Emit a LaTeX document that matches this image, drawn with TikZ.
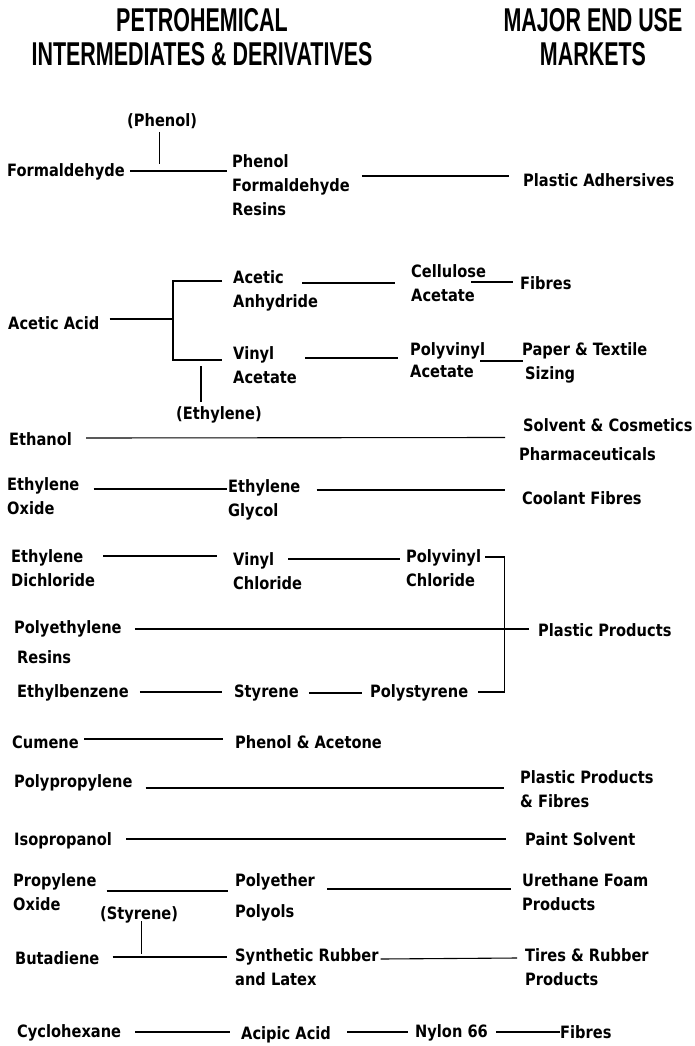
\documentclass[tikz,border=0pt]{standalone}
\usepackage{fontspec}
\usepackage{tikz}
\usetikzlibrary{calc}
\newfontfamily\labelfont[FakeStretch=0.86]{DejaVu Sans}
\newfontfamily\headfont[FakeStretch=0.65]{Liberation Sans}

\begin{document}
\begin{tikzpicture}[x=1pt,y=-1pt,
    lbl/.style={font=\labelfont\bfseries\fontsize{17}{24}\selectfont, anchor=west, inner sep=0pt, align=left},
    head/.style={font=\headfont\bfseries\fontsize{33}{34}\selectfont, inner sep=0pt, align=center},
    link/.style={line width=1.1pt}]
  \useasboundingbox (0,0) rectangle (694,1046);

  \node[head] (hdleft) at (202,37) {PETROHEMICAL\\INTERMEDIATES \& DERIVATIVES};
  \node[head] (hdright) at (593,37) {MAJOR END USE\\MARKETS};

  \node[lbl] (phA) at (127,121) {(Phenol)};
  \node[lbl] (fh) at (7,172) {Formaldehyde};
  \node[lbl] (pfr) at (232,185) {Phenol\\Formaldehyde\\Resins};
  \node[lbl] (pa) at (523,180) {Plastic Adhersives};

  \node[lbl] (aa) at (8,323) {Acetic Acid};
  \node[lbl] (aan) at (233,290.5) {Acetic\\Anhydride};
  \node[lbl] (va) at (233,365) {Vinyl\\Acetate};
  \node[lbl] (ca) at (411,283.5) {Cellulose\\Acetate};
  \node[lbl] (fbA) at (520,283) {Fibres};
  \node[lbl] (pva) at (410,360.5) {Polyvinyl\\[-2pt]Acetate};
  \node[lbl] (pts) at (522,363) {Paper \& Textile\\\hspace*{3pt}Sizing};
  \node[lbl] (ethA) at (176,415) {(Ethylene)};

  \node[lbl] (etoh) at (9,439) {Ethanol};
  \node[lbl] (sc) at (519,439.5) {\hspace*{4pt}Solvent \& Cosmetics\\[5pt]Pharmaceuticals};

  \node[lbl] (eo) at (7,496.5) {Ethylene\\Oxide};
  \node[lbl] (eg) at (228,500) {Ethylene\\Glycol};
  \node[lbl] (cf) at (522,498) {Coolant Fibres};

  \node[lbl] (edc) at (11,568) {Ethylene\\Dichloride};
  \node[lbl] (vc) at (233,571) {Vinyl\\Chloride};
  \node[lbl] (pvc) at (406,568.5) {Polyvinyl\\Chloride};

  \node[lbl] (pe) at (14,642) {Polyethylene\\[6pt]\hspace*{3pt}Resins};
  \node[lbl] (ppA) at (538,630) {Plastic Products};

  \node[lbl] (eb) at (17,693) {Ethylbenzene};
  \node[lbl] (sty) at (234,693) {Styrene};
  \node[lbl] (ps) at (370,693) {Polystyrene};

  \node[lbl] (cu) at (12,742) {Cumene};
  \node[lbl] (pac) at (235,742) {Phenol \& Acetone};

  \node[lbl] (ppl) at (14,783) {Polypropylene};
  \node[lbl] (ppf) at (520,789) {Plastic Products\\\& Fibres};

  \node[lbl] (ipa) at (14,841) {Isopropanol};
  \node[lbl] (psv) at (525,839) {Paint Solvent};

  \node[lbl] (po) at (13,892) {Propylene\\Oxide};
  \node[lbl] (pep) at (235,897.5) {Polyether\\[7pt]Polyols};
  \node[lbl] (ufp) at (522,892) {Urethane Foam\\Products};
  \node[lbl] (styA) at (100,915) {(Styrene)};

  \node[lbl] (bd) at (15,958) {Butadiene};
  \node[lbl] (srl) at (235,967.5) {Synthetic Rubber\\and Latex};
  \node[lbl] (trp) at (525,967) {Tires \& Rubber\\Products};

  \node[lbl] (cyc) at (17,1033) {Cyclohexane};
  \node[lbl] (aca) at (241,1035) {Acipic Acid};
  \node[lbl] (ny) at (415,1033) {Nylon 66};
  \node[lbl] (fbB) at (560,1032) {Fibres};

  \coordinate (fork) at (173,319);

  \draw[link] ($(phA.south)+(-3,3)$) -- ++(0,32);
  \draw[link] ($(fh.east)+(5,-1)$) -- ($(pfr.west |- fh.east)+(-5,-1)$);
  \draw[link] ($(pfr.east)+(12,-9)$) -- ($(pa.west)+(-14,-4)$);

  \draw[link] ($(aa.east)+(10,-4)$) -- (fork);
  \draw[link] ($(aan.west)+(-11,-9.5)$) -| (fork) |- ($(va.west)+(-11,-5)$);
  \draw[link] ($(ethA.north)+(-18,-5)$) -- ++(0,-36);
  \draw[link] ($(aan.west)+(69,-7.5)$) -- ($(ca.west)+(-16,-0.5)$);
  \draw[link] ($(ca.east)+(-15,-1.5)$) -- ($(fbA.west)+(-7,-1)$);
  \draw[link] ($(va.west)+(72,-7)$) -- ($(pva.west)+(-12,-2.5)$);
  \draw[link] ($(pva.east)+(-5,0.5)$) -- ($(pts.west)+(1,-2)$);

  \draw[link] ($(etoh.east)+(14,-1)$) -- ($(sc.west)+(-14,-2)$);
  \draw[link] ($(eo.east)+(14,-7.5)$) -- ($(eg.west |- eo.east)+(-1,-7.5)$);
  \draw[link] ($(eg.east)+(16,-10)$) -- ($(cf.west)+(-17,-8)$);

  \draw[link] ($(edc.east)+(8,-12)$) -- ($(vc.west |- edc.east)+(-16,-12)$);
  \draw[link] ($(vc.west)+(55,-12)$) -- ($(pvc.west)+(-6,-9.5)$);
  \draw[link] ($(pvc.west)+(79,-11.5)$) -| ($(ps.east)+(36,-1)$) -- ($(ps.east)+(10,-1)$);
  \draw[link] ($(pe.east)+(13,-13)$) -- ($(ppA.west)+(-9,-1)$);
  \draw[link] ($(eb.east)+(11,-1)$) -- ($(sty.west)+(-12,-1)$);
  \draw[link] ($(sty.east)+(10,0)$) -- ($(ps.west)+(-8,0)$);

  \draw[link] ($(cu.east)+(5,-3)$) -- ($(pac.west)+(-12,-3)$);
  \draw[link] ($(ppl.east)+(13,5)$) -- ($(ppf.west)+(-16,-1)$);
  \draw[link] ($(ipa.east)+(14,-2)$) -- ($(psv.west)+(-19,0)$);
  \draw[link] ($(po.east)+(10,-1)$) -- ($(pep.west |- po.east)+(-7,-1)$);
  \draw[link] ($(pep.east)+(12,-8.5)$) -- ($(ufp.west)+(-11,-3)$);
  \draw[link] ($(styA.south)+(2.5,-2)$) -- ++(0,33);
  \draw[link] ($(bd.east)+(13,-1)$) -- ($(srl.west |- bd.east)+(-8,-1)$);
  \draw[link] ($(srl.east)+(2,-8.5)$) -- ($(trp.west)+(-8,-9)$);

  \draw[link] ($(cyc.east)+(14,-1)$) -- ($(aca.west)+(-11,-3)$);
  \draw[link] ($(aca.east)+(16,-3)$) -- ($(ny.west)+(-7,-1)$);
  \draw[link] ($(ny.east)+(8,-1)$) -- (fbB.west);
\end{tikzpicture}
\end{document}
